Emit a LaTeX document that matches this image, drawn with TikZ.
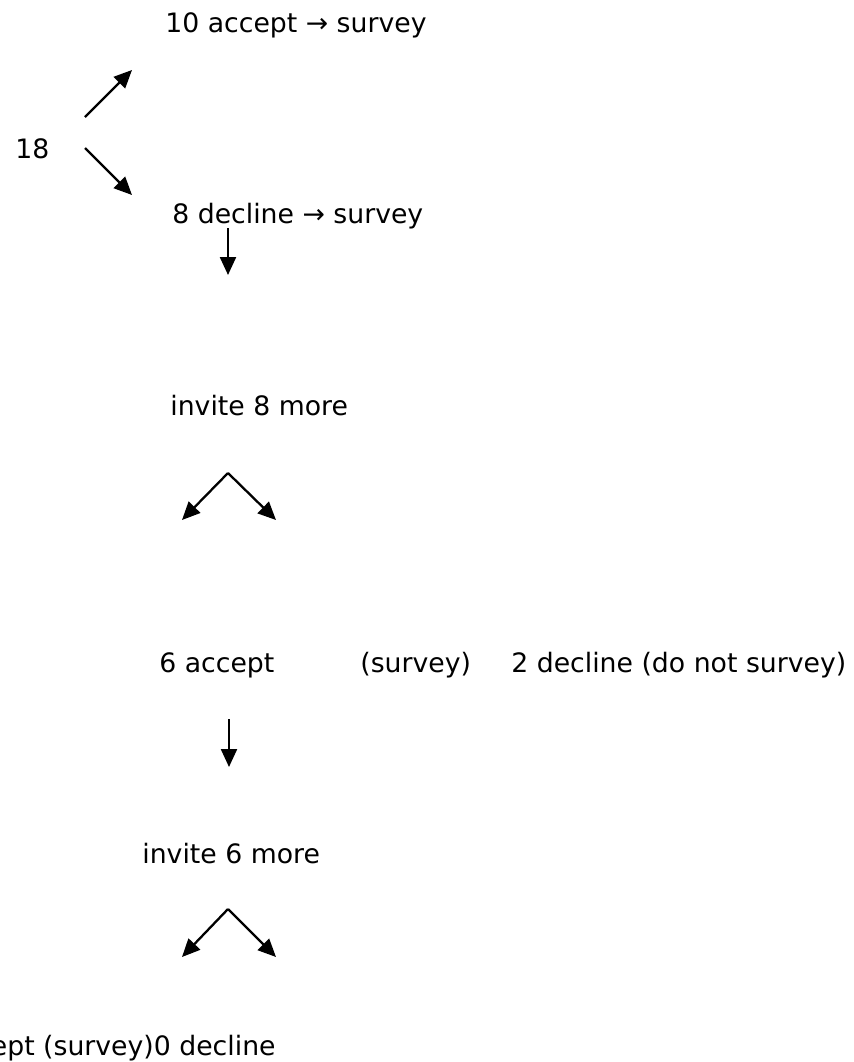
\documentclass[tikz,border=0pt]{standalone}
\usepackage{fontspec}
\setmainfont{DejaVu Sans}
\usetikzlibrary{arrows.meta}

\begin{document}
\begin{tikzpicture}[x=0.02cm,y=-0.02cm]
\tikzstyle{txt} = [anchor=base west,inner sep=0pt,font=\fontsize{15.2}{18}\selectfont]
\tikzstyle{arr} = [line width=1.3pt,-{Triangle[length=0.36cm,width=0.32cm]}]

\useasboundingbox (0,0) rectangle (854,1062);

\node[txt] (acc1) at (165,32) {10 accept → survey};
\node[txt] (n18) at (15,158) {18};
\node[txt] (dec1) at (172,223) {8 decline → survey};
\node[txt] (inv8) at (170,415) {invite 8 more};
\node[txt] (acc2) at (159,672) {6 accept};
\node[txt] (surv2) at (360,672) {(survey)};
\node[txt] (dec2) at (511,672) {2 decline (do not survey)};
\node[txt] (inv6) at (142,863) {invite 6 more};
\node[txt,anchor=base east] (last) at (276,1055) {ept (survey)0 decline};

% arrow ends
\coordinate (up0) at (85,117);   \coordinate (up1) at (132,70);
\coordinate (dn0) at (85,148);   \coordinate (dn1) at (132,195);
\coordinate (d1a) at (228,228);  \coordinate (d1b) at (228,275);
\coordinate (v1) at (228,473);   \coordinate (v1l) at (182,520);  \coordinate (v1r) at (276,520);
\coordinate (d2a) at (229,719);  \coordinate (d2b) at (229,767);
\coordinate (v2) at (228,909);   \coordinate (v2l) at (182,957);  \coordinate (v2r) at (276,957);

\draw[arr] (up0) -- (up1);
\draw[arr] (dn0) -- (dn1);
\draw[arr] (d1a) -- (d1b);
\draw[arr] (v1) -- (v1l);
\draw[arr] (v1) -- (v1r);
\draw[arr] (d2a) -- (d2b);
\draw[arr] (v2) -- (v2l);
\draw[arr] (v2) -- (v2r);
\end{tikzpicture}
\end{document}
